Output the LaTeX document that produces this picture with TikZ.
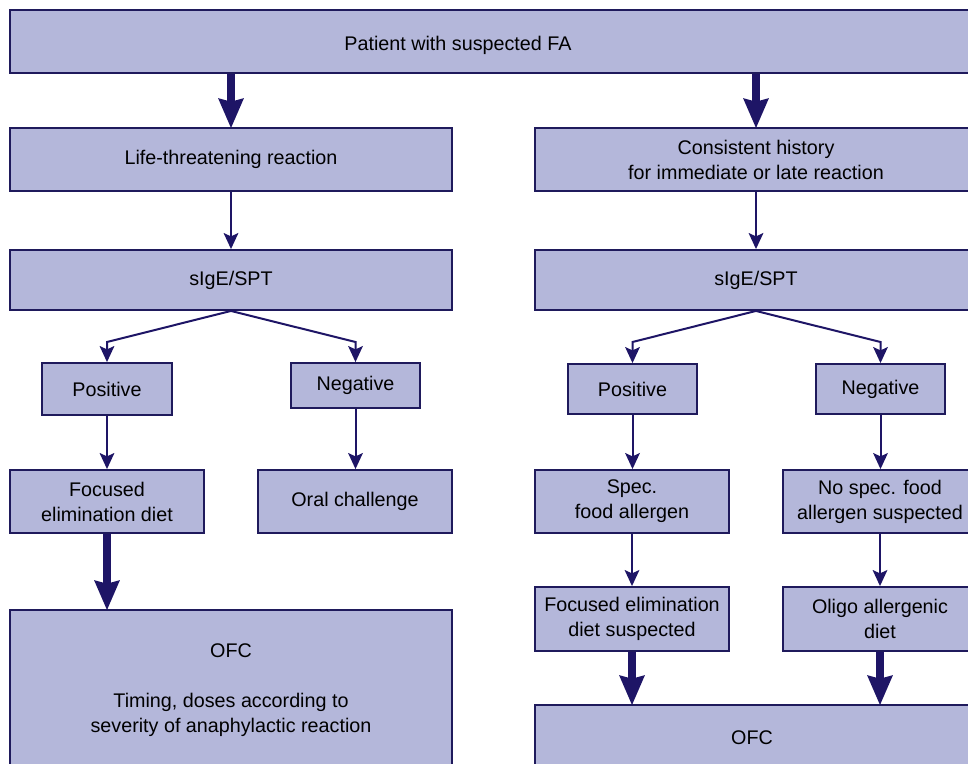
\documentclass[tikz,border=0pt]{standalone}
\usepackage{fontspec}
\setmainfont{Liberation Sans}
\usetikzlibrary{arrows.meta}
\definecolor{boxfill}{HTML}{B4B7DA}
\definecolor{boxline}{HTML}{1F1A5C}
\definecolor{arrowcol}{HTML}{1E1566}
\tikzset{
  box/.style={draw=boxline, fill=boxfill, line width=1.4pt, align=center,
    inner sep=0pt, font=\fontsize{14.8}{18.75}\selectfont},
  thinarrow/.style={draw=arrowcol, line width=1.5pt,
    -{Stealth[length=12pt, width=11pt, inset=2.5pt]}},
  bigarrow/.style={draw=arrowcol, line width=6pt,
    -{Stealth[length=22pt, width=18pt, inset=2pt]}, shorten >=-1pt}
}

\begin{document}
\begin{tikzpicture}[x=0.75pt, y=-0.75pt]
			%%%%% START %%%%%
			
			\fill[white] (0, 0) rectangle (968, 764);
			\clip (0, 0) rectangle (968, 764);
			
			\node[box, minimum width=725.25pt, minimum height=47.25pt] (fa) at (493.5, 41.5) {};
			\node[font=\fontsize{14.8}{18.75}\selectfont] (fatext) at (458, 45) {Patient with suspected FA};
			
			\node[box, minimum width=331.5pt, minimum height=47.25pt] (life) at (231, 159.5) {Life-threatening reaction};
			\node[box, minimum width=331.5pt, minimum height=47.25pt] (cons) at (756, 159.5) {Consistent history\\for immediate or late reaction};
			
			\node[box, minimum width=331.5pt, minimum height=45pt] (sigl) at (231, 280) {sIgE/SPT};
			\node[box, minimum width=331.5pt, minimum height=45pt] (sigr) at (756, 280) {sIgE/SPT};
			
			\node[box, minimum width=97.5pt, minimum height=39pt] (posl) at (107, 389) {Positive};
			\node[box, minimum width=96.75pt, minimum height=33.75pt] (negl) at (355.5, 385.5) {Negative};
			\node[box, minimum width=96.75pt, minimum height=37.5pt] (posr) at (632.5, 389) {Positive};
			\node[box, minimum width=96.75pt, minimum height=37.5pt] (negr) at (880.5, 389) {Negative};
			
			\node[box, minimum width=145.5pt, minimum height=47.25pt] (focl) at (107, 501.5) {Focused\\elimination diet};
			\node[box, minimum width=145.5pt, minimum height=47.25pt] (oral) at (355, 501.5) {Oral challenge};
			\node[box, minimum width=145.5pt, minimum height=47.25pt] (spec) at (632, 501.5) {Spec.\\food allergen};
			\node[box, minimum width=145.5pt, minimum height=47.25pt] (nospec) at (880, 501.5) {No spec. food\\allergen suspected};
			
			\node[box, minimum width=145.5pt, minimum height=48pt] (fedsus) at (632, 619) {Focused elimination\\diet suspected};
			\node[box, minimum width=145.5pt, minimum height=48pt] (oligo) at (880, 619) {Oligo allergenic\\diet};
			
			\node[box, minimum width=331.5pt, minimum height=120pt] (ofcl) at (231, 690) {OFC\\[18.75pt]Timing, doses according to\\severity of anaphylactic reaction};
			\node[box, minimum width=325.5pt, minimum height=49.5pt] (ofcr) at (752, 738) {OFC};
			
			\coordinate (forkll) at (107, 342);
			\coordinate (forklr) at (355.5, 342);
			\coordinate (forkrl) at (632.5, 342);
			\coordinate (forkrr) at (880.5, 342);
			
			% thick arrows
			\draw[bigarrow] (life.north |- fa.south) -- (life.north);
			\draw[bigarrow] (cons.north |- fa.south) -- (cons.north);
			\draw[bigarrow] (focl.south) -- (focl.south |- ofcl.north);
			\draw[bigarrow] (fedsus.south) -- (fedsus.south |- ofcr.north);
			\draw[bigarrow] (oligo.south) -- (oligo.south |- ofcr.north);
			
			% thin arrows
			\draw[thinarrow] (life) -- (sigl);
			\draw[thinarrow] (cons) -- (sigr);
			\draw[thinarrow] (sigl.south) -- (forkll) -- (posl.north);
			\draw[thinarrow] (sigl.south) -- (forklr) -- (negl.north);
			\draw[thinarrow] (sigr.south) -- (forkrl) -- (posr.north);
			\draw[thinarrow] (sigr.south) -- (forkrr) -- (negr.north);
			\draw[thinarrow] (posl) -- (focl);
			\draw[thinarrow] (negl.south) -- (negl.south |- oral.north);
			\draw[thinarrow] (posr.south) -- (posr.south |- spec.north);
			\draw[thinarrow] (negr.south) -- (negr.south |- nospec.north);
			\draw[thinarrow] (spec) -- (fedsus);
			\draw[thinarrow] (nospec) -- (oligo);
			
			%%%%% END %%%%%
\end{tikzpicture}
\end{document}
